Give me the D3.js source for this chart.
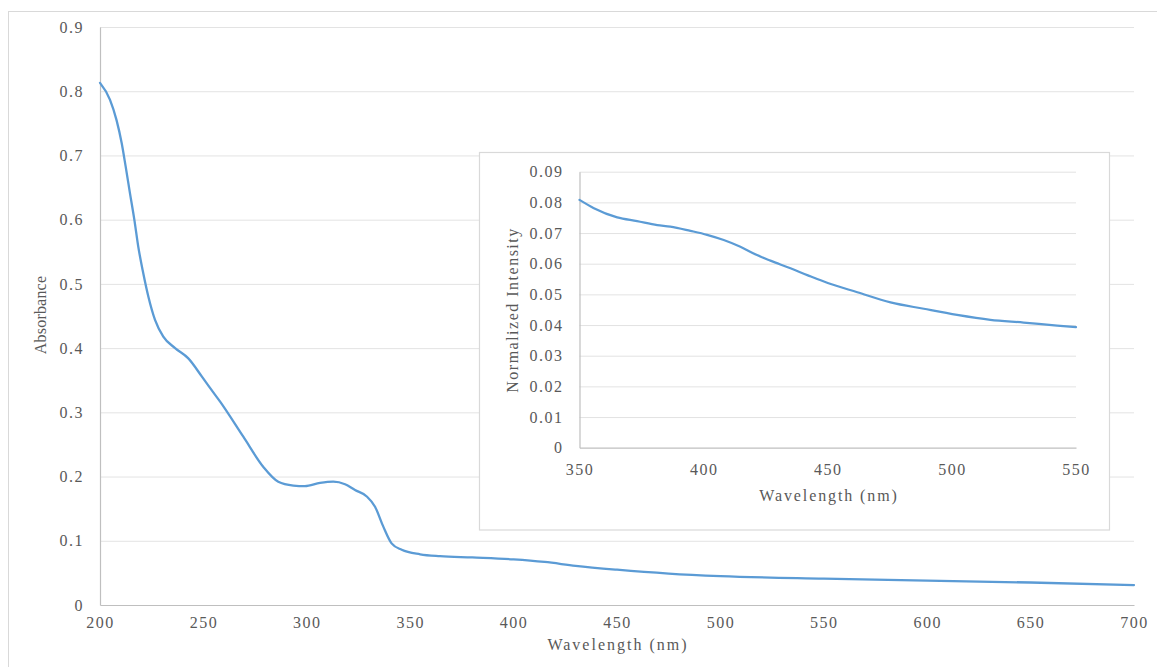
<!DOCTYPE html>
<html>
<head>
<meta charset="utf-8">
<script src="https://cdn.jsdelivr.net/npm/d3@7"></script>
<style>
  html, body { margin: 0; padding: 0; background: #ffffff; }
  svg { display: block; }
  svg text { font-family: "Liberation Serif", "Times New Roman", Tinos, "DejaVu Serif", serif; }
</style>
</head>
<body>
<svg id="chart" width="1157" height="667"></svg>
<script>
// Absorption spectrum (main panel)
const absWavelength = [200, 204.8, 208, 210.5, 212.4, 214.5, 216.6, 218.5, 220.9, 223.4, 226.6, 230.6,
  236.3, 242.7, 249.2, 253.2, 258, 269.3, 279, 286.2, 293.5, 299.1, 306.4, 312.8, 318.5, 323.3, 329,
  333, 337, 341, 345.9, 354.8, 364.4, 380, 400, 415, 430, 450, 475, 500, 550, 600, 650, 700];
const absorbance = [0.813, 0.787, 0.755, 0.719, 0.683, 0.641, 0.600, 0.558, 0.517, 0.480, 0.444, 0.418,
  0.400, 0.384, 0.356, 0.338, 0.317, 0.262, 0.215, 0.192, 0.186, 0.185, 0.190, 0.192, 0.188, 0.179, 0.169,
  0.153, 0.122, 0.096, 0.086, 0.079, 0.076, 0.074, 0.071, 0.067, 0.061, 0.055, 0.049, 0.045, 0.041, 0.038, 0.035, 0.031];

// Emission spectrum (inset panel)
const emWavelength = [350, 355.8, 365.2, 373.2, 381.3, 386.6, 394.7, 401.4, 408.1, 414.8, 421.5, 426.9,
  435, 442, 450, 461.9, 475.3, 488.7, 502.1, 515.5, 528.9, 542.4, 550];
const intensity = [0.0808, 0.0781, 0.0751, 0.0739, 0.0726, 0.0721, 0.0707, 0.0694, 0.0677, 0.0655, 0.0628, 0.0610,
  0.0585, 0.0562, 0.0537, 0.0507, 0.0474, 0.0453, 0.0433, 0.0417, 0.0408, 0.0398, 0.0393];

const mainXTicks = [200, 250, 300, 350, 400, 450, 500, 550, 600, 650, 700];
const mainYTicks = [0, 0.1, 0.2, 0.3, 0.4, 0.5, 0.6, 0.7, 0.8, 0.9];
const insetXTicks = [350, 400, 450, 500, 550];
const insetYTicks = [0, 0.01, 0.02, 0.03, 0.04, 0.05, 0.06, 0.07, 0.08, 0.09];

const svg = d3.select("#chart");
const lineColor = "#5b9bd5";
const gridColor = "#e3e3e3";
const axisColor = "#bfbfbf";
const textColor = "#595959";

function styleText(sel, size, spacing) {
  sel.attr("font-family", null)
    .style("font-size", size + "px")
    .style("letter-spacing", spacing + "px")
    .style("fill", textColor);
}

// chart area frame
svg.append("rect")
  .attr("x", 8.5).attr("y", 11.5).attr("width", 1300).attr("height", 800)
  .attr("fill", "#ffffff").attr("stroke", "#d9d9d9").attr("stroke-width", 1);

function drawPanel(g, cfg) {
  const x = d3.scaleLinear().domain(cfg.xDomain).range([cfg.left, cfg.right]);
  const y = d3.scaleLinear().domain(cfg.yDomain).range([cfg.bottom, cfg.top]);

  // horizontal gridlines
  g.append("g")
    .attr("transform", `translate(${cfg.left},0)`)
    .call(d3.axisLeft(y).tickValues(cfg.yTicks.filter(v => v > 0)).tickSize(-(cfg.right - cfg.left)).tickFormat(""))
    .call(a => a.select(".domain").remove())
    .call(a => a.selectAll("line").attr("stroke", gridColor).attr("stroke-width", 1));

  // y axis labels
  g.append("g")
    .attr("transform", `translate(${cfg.left},0)`)
    .call(d3.axisLeft(y).tickValues(cfg.yTicks).tickSize(0).tickPadding(cfg.yPad).tickFormat(cfg.yFormat))
    .attr("font-family", null)
    .call(a => a.select(".domain").attr("stroke", axisColor).attr("stroke-width", 1.2))
    .call(a => styleText(a.selectAll("text"), 16, 1.5));

  // x axis
  g.append("g")
    .attr("transform", `translate(0,${cfg.bottom})`)
    .call(d3.axisBottom(x).tickValues(cfg.xTicks).tickSize(0).tickPadding(cfg.xPad).tickFormat(d3.format("d")))
    .attr("font-family", null)
    .call(a => a.select(".domain").attr("stroke", axisColor).attr("stroke-width", 1.2))
    .call(a => styleText(a.selectAll("text"), 16, 1.5));

  const pts = cfg.xs.map((v, i) => [v, cfg.ys[i]]);
  g.append("path")
    .datum(pts)
    .attr("fill", "none")
    .attr("stroke", lineColor)
    .attr("stroke-width", cfg.lineWidth)
    .attr("stroke-linejoin", "round")
    .attr("stroke-linecap", "round")
    .attr("d", d3.line().x(d => x(d[0])).y(d => y(d[1])).curve(d3.curveMonotoneX));

  g.append("text")
    .attr("x", cfg.xTitle[0]).attr("y", cfg.xTitle[1])
    .attr("text-anchor", "middle").attr("dominant-baseline", "middle")
    .call(t => styleText(t, cfg.titleSize, cfg.xTitleSpacing))
    .text("Wavelength (nm)");

  g.append("text")
    .attr("transform", `translate(${cfg.yTitle[0]},${cfg.yTitle[1]}) rotate(-90)`)
    .attr("text-anchor", "middle").attr("dominant-baseline", "middle")
    .call(t => styleText(t, cfg.titleSize, cfg.yTitleSpacing))
    .text(cfg.yLabel);
}

// main panel
drawPanel(svg.append("g"), {
  xDomain: [200, 700], yDomain: [0, 0.9],
  left: 100, right: 1134, top: 27, bottom: 605,
  xTicks: mainXTicks, yTicks: mainYTicks,
  yFormat: d => d === 0 ? "0" : d3.format(".1f")(d),
  yPad: 16, xPad: 12,
  xs: absWavelength, ys: absorbance, lineWidth: 2.3,
  xTitle: [618, 646], yTitle: [42, 315], titleSize: 16,
  xTitleSpacing: 2, yTitleSpacing: 0.2,
  yLabel: "Absorbance"
});

// inset panel
const inset = svg.append("g");
inset.append("rect")
  .attr("x", 479.5).attr("y", 152.5).attr("width", 630).attr("height", 377.5)
  .attr("fill", "#ffffff").attr("stroke", "#d9d9d9").attr("stroke-width", 1.2);

drawPanel(inset, {
  xDomain: [350, 550], yDomain: [0, 0.09],
  left: 579.5, right: 1076, top: 171.7, bottom: 447.7,
  xTicks: insetXTicks, yTicks: insetYTicks,
  yFormat: d => d === 0 ? "0" : d3.format(".2f")(d),
  yPad: 16, xPad: 16,
  xs: emWavelength, ys: intensity, lineWidth: 2.2,
  xTitle: [829, 497], yTitle: [514, 310], titleSize: 16,
  xTitleSpacing: 1.9, yTitleSpacing: 1.5,
  yLabel: "Normalized Intensity"
});
</script>
</body>
</html>
